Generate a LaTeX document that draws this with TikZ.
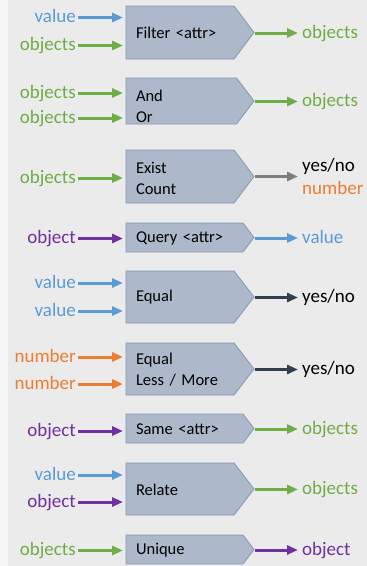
\documentclass[tikz,border=0pt]{standalone}
\usepackage{fontspec}
\setmainfont{Carlito}
\usetikzlibrary{arrows.meta}
\definecolor{valC}{HTML}{5B9BD5}
\definecolor{objC}{HTML}{70AD47}
\definecolor{numC}{HTML}{ED7D31}
\definecolor{oneC}{HTML}{7030A0}
\definecolor{boolC}{HTML}{333F50}
\definecolor{mixC}{HTML}{7F7F7F}
\definecolor{boxC}{HTML}{ADB9CA}
\definecolor{edgeC}{HTML}{8497B0}
\definecolor{bgC}{HTML}{EBEBEB}
\tikzset{
	labeltext/.style={inner xsep=2pt,font=\fontsize{19}{23}\selectfont},
	inlabel/.style={labeltext,anchor=east,text height=10.5pt,text depth=0pt},
	outlabel/.style={labeltext,anchor=west,text height=10.5pt,text depth=0pt},
	pairlabel/.style={labeltext,anchor=west,align=left},
	optext/.style={anchor=west,inner xsep=10pt,inner ysep=0pt,outer sep=0pt,text width=108pt,align=left,font=\fontsize{16.5}{21}\selectfont},
	opshape/.style={fill=boxC,draw=edgeC,line width=0.8pt,line join=miter},
	flow/.style={line width=3pt,-{Triangle[length=11pt,width=9pt]},shorten >=3pt},
	flowout/.style={flow,shorten <=1pt,shorten >=2pt}
}
\begin{document}
\begin{tikzpicture}[x=1pt,y=-1pt]
	\useasboundingbox (0,0) rectangle (367,566);
	\fill[bgC] (0,0) rectangle (367,566);
	\fill[white!60!bgC] (0,0) rectangle (8,566);
	% operator boxes: top / bottom / tip length
	\foreach \t/\b/\p in {6/59/20,78/124/17.5,150/203/20,223/252/11,271/323/20,343/395/20,414/443/11,463/515/20,535/564/11}
		\draw[opshape] (126,\t) -- (254-\p,\t) -- (254,{(\t+\b)/2}) -- (254-\p,\b) -- (126,\b) -- cycle;
	\node[optext] (filter) at (126,33) {Filter <attr>};
	\node[optext] (andor) at (126,106) {And\\Or};
	\node[optext] (exist) at (126,178.5) {Exist\\Count};
	\node[optext] (query) at (126,238) {Query <attr>};
	\node[optext] (equal) at (126,297) {Equal};
	\node[optext] (compare) at (126,370) {Equal\\Less / More};
	\node[optext] (same) at (126,429) {Same <attr>};
	\node[optext] (relate) at (126,490) {Relate};
	\node[optext] (unique) at (126,550) {Unique};
	% filter
	\node[inlabel,valC] (filterA) at (78,17.5) {value};
	\node[inlabel,objC] (filterB) at (78,45.5) {objects};
	\node[outlabel,objC] (filterOut) at (300,33) {objects};
	\draw[flow,valC] (filterA.east) -- (filter.west |- filterA.east);
	\draw[flow,objC] (filterB.east) -- (filter.west |- filterB.east);
	\draw[flowout,objC] (filter.east |- filterOut.west) -- (filterOut.west);
	% and / or
	\node[inlabel,objC] (andorA) at (78,93) {objects};
	\node[inlabel,objC] (andorB) at (78,118) {objects};
	\node[outlabel,objC] (andorOut) at (300,101.5) {objects};
	\draw[flow,objC] (andorA.east) -- (andor.west |- andorA.east);
	\draw[flow,objC] (andorB.east) -- (andor.west |- andorB.east);
	\draw[flowout,objC] (andor.east |- andorOut.west) -- (andorOut.west);
	% exist / count
	\node[inlabel,objC] (existA) at (78,178) {objects};
	\node[pairlabel] (existOut) at (300,176.5) {yes/no\\\textcolor{numC}{number}};
	\draw[flow,objC] (existA.east) -- (exist.west |- existA.east);
	\draw[flowout,mixC] (exist.east |- existOut.west) -- (existOut.west);
	% query
	\node[inlabel,oneC] (queryA) at (78,238.5) {object};
	\node[outlabel,valC] (queryOut) at (300,238) {value};
	\draw[flow,oneC] (queryA.east) -- (query.west |- queryA.east);
	\draw[flowout,valC] (query.east |- queryOut.west) -- (queryOut.west);
	% equal
	\node[inlabel,valC] (equalA) at (78,283) {value};
	\node[inlabel,valC] (equalB) at (78,311) {value};
	\node[outlabel] (equalOut) at (300,297.5) {yes/no};
	\draw[flow,valC] (equalA.east) -- (equal.west |- equalA.east);
	\draw[flow,valC] (equalB.east) -- (equal.west |- equalB.east);
	\draw[flowout,boolC] (equal.east |- equalOut.west) -- (equalOut.west);
	% compare
	\node[inlabel,numC] (compareA) at (78,357) {number};
	\node[inlabel,numC] (compareB) at (78,384) {number};
	\node[outlabel] (compareOut) at (300,369.5) {yes/no};
	\draw[flow,numC] (compareA.east) -- (compare.west |- compareA.east);
	\draw[flow,numC] (compareB.east) -- (compare.west |- compareB.east);
	\draw[flowout,boolC] (compare.east |- compareOut.west) -- (compareOut.west);
	% same
	\node[inlabel,oneC] (sameA) at (78,431) {object};
	\node[outlabel,objC] (sameOut) at (300,429) {objects};
	\draw[flow,oneC] (sameA.east) -- (same.west |- sameA.east);
	\draw[flowout,objC] (same.east |- sameOut.west) -- (sameOut.west);
	% relate
	\node[inlabel,valC] (relateA) at (78,475) {value};
	\node[inlabel,oneC] (relateB) at (78,502) {object};
	\node[outlabel,objC] (relateOut) at (300,489.5) {objects};
	\draw[flow,valC] (relateA.east) -- (relate.west |- relateA.east);
	\draw[flow,oneC] (relateB.east) -- (relate.west |- relateB.east);
	\draw[flowout,objC] (relate.east |- relateOut.west) -- (relateOut.west);
	% unique
	\node[inlabel,objC] (uniqueA) at (78,550.5) {objects};
	\node[outlabel,oneC] (uniqueOut) at (300,550) {object};
	\draw[flow,objC] (uniqueA.east) -- (unique.west |- uniqueA.east);
	\draw[flowout,oneC] (unique.east |- uniqueOut.west) -- (uniqueOut.west);
\end{tikzpicture}
\end{document}
